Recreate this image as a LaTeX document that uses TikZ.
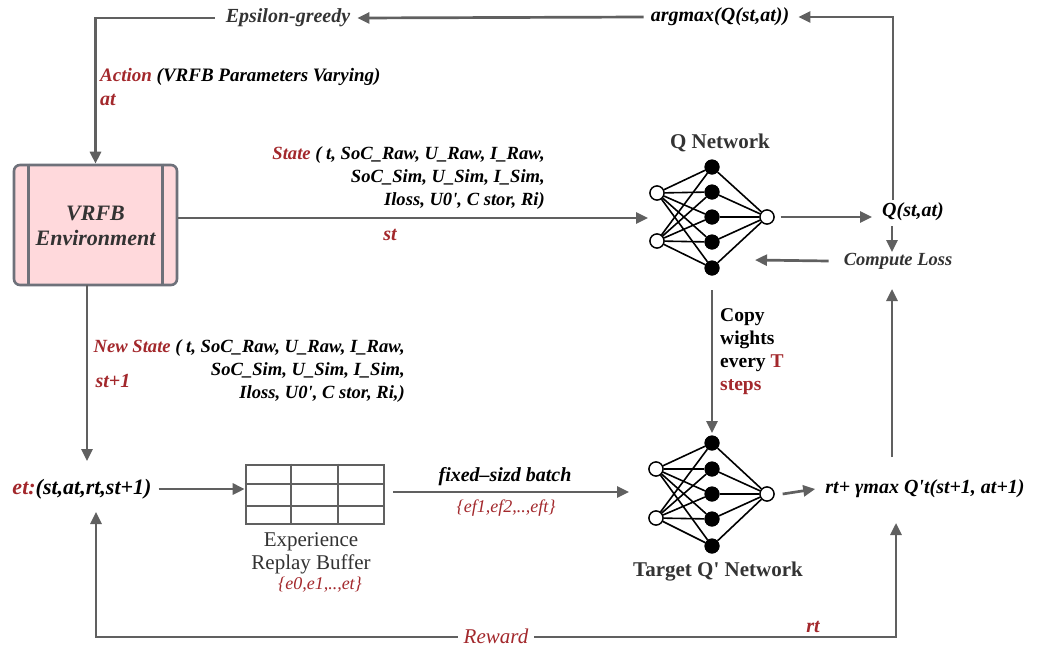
\documentclass[tikz,border=0pt]{standalone}
\usepackage{fontspec}
\setmainfont{Liberation Serif}[Ligatures=TeXOff]
\usetikzlibrary{arrows.meta}
\definecolor{ln}{HTML}{606060}
\definecolor{rd}{HTML}{A3282C}
\definecolor{pk}{HTML}{FFD9DC}
\definecolor{bx}{HTML}{6E717A}
\definecolor{tx}{HTML}{333333}
\begin{document}
\begin{tikzpicture}[x=1pt,y=-1pt,
  conn/.style={draw=ln, line width=2.7pt},
  arr/.style={conn, -{Triangle[length=12pt,width=11pt]}},
  lbl/.style={inner sep=0pt, font=\fontsize{20}{24}\selectfont\bfseries\itshape},
  glbl/.style={lbl, text=tx},
  slbl/.style={inner sep=0pt, align=right, font=\fontsize{18.6}{23}\selectfont\bfseries\itshape},
  ulbl/.style={inner sep=0pt, font=\fontsize{21}{23}\selectfont\bfseries},
  inn/.style={circle, draw=black, fill=white, line width=1.3pt, minimum size=14pt, inner sep=0pt},
  hid/.style={circle, fill=black, minimum size=15pt, inner sep=0pt},
  nnedge/.style={black, line width=1.6pt}
]
\fill[white] (0,0) rectangle (1045,646);
\useasboundingbox (0,0) rectangle (1045,646);

% ---------- top labels ----------
\node[glbl] (eps) at (288,18) {Epsilon-greedy};
\node[lbl] (argmax) at (720,17) {argmax(Q(st,at))};
\node[lbl, anchor=west, font=\fontsize{19}{24}\selectfont\bfseries\itshape] (action) at (100,77) {\textcolor{rd}{Action} (VRFB Parameters Varying)};
\node[lbl, anchor=west, text=rd] (at) at (100,100) {at};

% ---------- environment ----------
\node[draw=bx, fill=pk, rounded corners=6pt, line width=2.6pt, minimum width=163pt, minimum height=120pt, inner sep=0pt] (env) at (95.5,225) {};
\draw[bx, line width=2.6pt] ([xshift=16pt]env.north west) -- ([xshift=16pt]env.south west);
\draw[bx, line width=2.6pt] ([xshift=-16pt]env.north east) -- ([xshift=-16pt]env.south east);
\node[glbl, align=center, font=\fontsize{22}{25}\selectfont\bfseries\itshape] (envtxt) at (95.5,226) {VRFB\\Environment};

% ---------- state labels ----------
\node[slbl, anchor=east] (state) at (545,178) {\textcolor{rd}{State} ( t, SoC\_Raw, U\_Raw, I\_Raw,\\SoC\_Sim, U\_Sim, I\_Sim,\\Iloss, U0', C stor, Ri)};
\node[lbl, text=rd] (st) at (390,235) {st};
\node[slbl, anchor=east] (nstate) at (405,371) {\textcolor{rd}{New State} ( t, SoC\_Raw, U\_Raw, I\_Raw,\\SoC\_Sim, U\_Sim, I\_Sim,\\Iloss, U0', C stor, Ri,)};
\node[lbl, text=rd] (st1) at (113,381) {st+1};

% ---------- Q network ----------
\node[ulbl, text=tx] (qlabel) at (720,143) {Q Network};
\node[hid] (qh1) at (712,167) {};
\node[hid] (qh2) at (712,192) {};
\node[hid] (qh3) at (712,217) {};
\node[hid] (qh4) at (712,242) {};
\node[hid] (qh5) at (712,268) {};
\node[inn] (qi1) at (657,193) {};
\node[inn] (qi2) at (657,241) {};
\node[inn] (qo) at (767,217) {};
\foreach \i in {qi1,qi2} \foreach \h in {qh1,qh2,qh3,qh4,qh5} \draw[nnedge] (\i) -- (\h);
\foreach \h in {qh1,qh2,qh3,qh4,qh5} \draw[nnedge] (\h) -- (qo);
\foreach \n in {qh1,qh2,qh3,qh4,qh5} \node[hid] at (\n) {};
\foreach \n in {qi1,qi2,qo} \node[inn] at (\n) {};

% ---------- target network ----------
\node[hid] (th1) at (712,443) {};
\node[hid] (th2) at (712,469) {};
\node[hid] (th3) at (712,494) {};
\node[hid] (th4) at (712,519) {};
\node[hid] (th5) at (712,546) {};
\node[inn] (ti1) at (656,469) {};
\node[inn] (ti2) at (656,518) {};
\node[inn] (to) at (767,494) {};
\foreach \i in {ti1,ti2} \foreach \h in {th1,th2,th3,th4,th5} \draw[nnedge] (\i) -- (\h);
\foreach \h in {th1,th2,th3,th4,th5} \draw[nnedge] (\h) -- (to);
\foreach \n in {th1,th2,th3,th4,th5} \node[hid] at (\n) {};
\foreach \n in {ti1,ti2,to} \node[inn] at (\n) {};
\node[ulbl, text=tx] (tlabel) at (718,572) {Target Q' Network};

% ---------- right side labels ----------
\node[lbl] (qsa) at (913,212) {Q(st,at)};
\node[glbl, font=\fontsize{18.5}{20}\selectfont\bfseries\itshape] (cl) at (898,261) {Compute Loss};
\node[lbl] (fm) at (925,489) {rt+ γmax Q't(st+1, at+1)};
\node[ulbl, anchor=west, align=left, font=\fontsize{19.5}{23}\selectfont\bfseries] (copy) at (720,352) {Copy\\wights\\every \textcolor{rd}{T}\\\textcolor{rd}{steps}};

% ---------- bottom left ----------
\node[lbl, font=\fontsize{22}{24}\selectfont\bfseries\itshape] (et) at (82,489) {\textcolor{rd}{et:}(st,at,rt,st+1)};
\node[draw=ln, line width=2.6pt, minimum width=138pt, minimum height=59pt, inner sep=0pt] (buf) at (315,494.5) {};
\draw[ln, line width=2.2pt] ([xshift=46pt]buf.north west) -- ([xshift=46pt]buf.south west);
\draw[ln, line width=2.2pt] ([xshift=-47pt]buf.north east) -- ([xshift=-47pt]buf.south east);
\draw[ln, line width=2.2pt] ([yshift=-20pt]buf.north west) -- ([yshift=-20pt]buf.north east);
\draw[ln, line width=2.2pt] ([yshift=19pt]buf.south west) -- ([yshift=19pt]buf.south east);
\node[inner sep=0pt, text=tx, align=center, font=\fontsize{21}{23}\selectfont] (buflabel) at (311,553) {Experience\\Replay Buffer};
\node[inner sep=0pt, text=rd, font=\fontsize{18}{20}\selectfont\itshape] (bufset) at (320,585) {\{e0,e1,..,et\}};
\node[lbl] (batch) at (505,477) {fixed–sizd batch};
\node[inner sep=0pt, text=rd, font=\fontsize{18}{20}\selectfont\itshape] (batchset) at (506,508) {\{ef1,ef2,..,eft\}};
\node[lbl, text=rd, font=\fontsize{21}{24}\selectfont\itshape] (rw) at (496,636) {Reward};
\node[lbl, text=rd] (rt) at (813,627) {rt};

% ---------- coordinates ----------
\coordinate (qtop) at (893,200);
\coordinate (qin) at (648,218);
\coordinate (qsain) at (872,217);
\coordinate (clin) at (755,260);
\coordinate (envbot) at (87,285);
\coordinate (ettop) at (87,461);
\coordinate (etbot) at (96,512);
\coordinate (fmbot) at (896,523);
\coordinate (tin) at (629,492);
\coordinate (fmtop) at (892,457);
\coordinate (cltop) at (892,289);
\coordinate (qsabot) at (892,226);
\coordinate (clnorth) at (892,252);

% ---------- connectors ----------
\draw[arr] (qtop) |- ([xshift=9pt]argmax.east);
\draw[arr] ([xshift=-7pt]argmax.west) -- ([xshift=7pt]eps.east);
\draw[arr] ([xshift=-11pt]eps.west) -| (env.north);
\draw[arr] ([yshift=7pt]env.east) -- (qin);
\draw[arr] ([xshift=6pt]qo.east) -- (qsain);
\draw[arr] (qsabot) -- (clnorth);
\draw[arr] ([xshift=-15pt]cl.west) -- (clin);
\draw[arr] ([yshift=-22pt]qh5.center) -- ([yshift=10pt]th1.center);
\draw[arr] (envbot) -- (ettop);
\draw[arr] ([xshift=7pt]et.east) -- (et.east -| buf.west);
\draw[arr] ([xshift=8pt]buf.east |- tin) -- (tin);
\draw[arr] ([xshift=8pt]to.east) -- ([xshift=-10pt]fm.west);
\draw[arr] (fmtop) -- (cltop);
\draw[arr] ([xshift=-6pt]rw.west |- 0,637) -| (etbot);
\draw[arr] ([xshift=6pt]rw.east |- 0,637) -| (fmbot);
\end{tikzpicture}
\end{document}
